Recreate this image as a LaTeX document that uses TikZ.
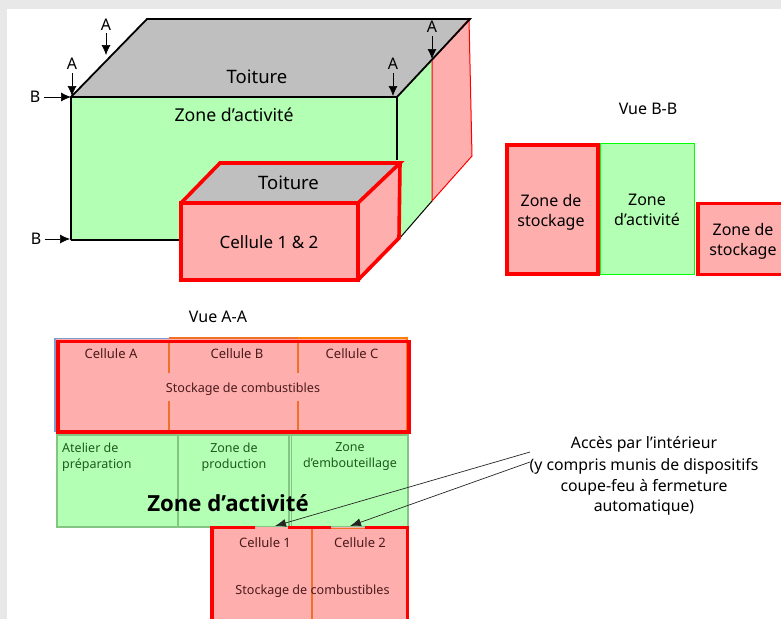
\documentclass[tikz,border=0pt]{standalone}
\usepackage{fontspec}
\setmainfont{Noto Sans}
\newfontfamily\zboldfont{Open Sans}[BoldFont={* Bold}]
\usetikzlibrary{arrows.meta}
\definecolor{zgreen}{HTML}{B3FFB3}
\definecolor{zred}{HTML}{FFAEAE}
\definecolor{zgrey}{HTML}{BFBFBF}
\definecolor{zbg}{HTML}{E8E8E8}
\definecolor{zdiv}{HTML}{83C583}
\definecolor{zorange}{HTML}{F0702A}
\definecolor{zblue}{HTML}{7A9FD0}
\definecolor{ztext}{HTML}{4A1A1A}
\definecolor{zgtext}{HTML}{1F5A1F}
\tikzset{
 lbl/.style={inner sep=0pt,align=center,font=\fontsize{#1}{#1}\selectfont},
 lbl/.default=16,
 mark arrow/.style={-{Latex[length=10pt,width=9pt]},line width=.7pt},
 black edge/.style={black,line width=1.8pt},
 red edge/.style={red,line width=3.6pt,line join=miter},
 acces/.style={-{Latex[length=11pt,width=8pt]},line width=.7pt,black!85}
}
\begin{document}
\begin{tikzpicture}[x=1pt,y=-1pt]
\useasboundingbox (0,0) rectangle (781,619);
\fill[zbg] (0,0) rectangle (781,619);
\fill[white] (7,9) rectangle (781,619);
% ---- perspective building
\fill[zgrey] (71,97) -- (147,19) -- (470,19) -- (397,97) -- cycle;
\fill[zgreen] (71,97) rectangle (397,240);
\fill[zgreen] (397,97) -- (432,60) -- (432,201) -- (399,239) -- cycle;
\filldraw[fill=zred,draw=red,line width=1pt] (432,60) -- (469,19) -- (472,156) -- (432,201) -- cycle;
\draw[black,line width=1pt] (399,239) -- (432,201);
\draw[black edge] (71,240) -- (71,97) -- (147,19) -- (470,19) -- (397,97) -- (71,97);
\draw[black edge] (397,97) -- (397,160);
\draw[black edge] (71,240) -- (181,240);
% small box
\fill[zgrey] (181,203) -- (220,163) -- (400,163) -- (358,203) -- cycle;
\fill[zred] (181,203) rectangle (358,280);
\fill[zred] (358,203) -- (400,163) -- (399,238) -- (358,280) -- cycle;
\draw[red edge] (181,203) rectangle (358,280);
\draw[red edge] (181,203) -- (220,163) -- (400,163) -- (358,203);
\draw[red edge] (400,163) -- (399,238) -- (358,280);
% labels building
\node[lbl=18.5] (toit1) at (257,77) {Toiture};
\node[lbl=17.7] (act1) at (234,115) {Zone d’activité};
\node[lbl=18.5] (toit2) at (288.5,183) {Toiture};
\node[lbl=17] (cell12) at (269,242) {Cellule 1 \& 2};
% A/B markers
\node[lbl=16] (a1) at (106,25) {A};
\coordinate (a1e) at (106,55);
\draw[mark arrow] (106,33) -- (a1e);
\node[lbl=16] (a2) at (72,64) {A};
\coordinate (a2e) at (72,96);
\draw[mark arrow] (72,73) -- (a2e);
\node[lbl=16] (a3) at (393,64) {A};
\coordinate (a3e) at (393,96);
\draw[mark arrow] (393,73) -- (a3e);
\node[lbl=16] (a4) at (432,27) {A};
\coordinate (a4e) at (432,59);
\draw[mark arrow] (432,36) -- (a4e);
\node[lbl=16] (b1) at (35,97) {B};
\coordinate (b1e) at (71,97);
\draw[mark arrow] (44,97) -- (b1e);
\node[lbl=16] (b2) at (36,239) {B};
\coordinate (b2e) at (70,239);
\draw[mark arrow] (45,239) -- (b2e);
% ---- Vue B-B
\node[lbl=16] (vbb) at (648,109) {Vue B-B};
\node[draw=green,line width=1pt,fill=zgreen,minimum width=94pt,minimum height=131pt] (bbg) at (647,208.5) {};
\node[lbl=16] (bbgt) at (647,209.5) {Zone\\[4pt]d’activité};
\node[draw=red,line width=3.6pt,fill=zred,minimum width=91pt,minimum height=129pt] (bbr) at (552.5,209.5) {};
\node[lbl=16] (bbrt) at (551,212.5) {Zone de\\[4pt]stockage};
\fill[zred] (696,202) rectangle (781,276);
\draw[red,line width=3.6pt] (790,203.5) -- (698,203.5) -- (698,274.5) -- (790,274.5);
\node[lbl=16] (bbr2) at (743,241) {Zone de\\[4pt]stockage};
% ---- Vue A-A
\node[lbl=16] (vaa) at (218,317) {Vue A-A};
\fill[zred] (56,339) rectangle (408,433);
\draw[zblue,line width=1.2pt] (55,432) -- (55,338.5) -- (169,338.5);
\draw[zorange,line width=1.5pt] (169,338) -- (298,338);
\draw[orange,line width=1.5pt] (298,338) -- (407,338) -- (407,433);
\draw[zorange,line width=1.2pt] (169,341) -- (169,373) (169,401) -- (169,433);
\draw[zorange,line width=1.2pt] (298,341) -- (298,373) (298,401) -- (298,433);
\draw[red,line width=3.6pt] (58,341.5) rectangle (409,432);
\node[lbl=13,text=ztext] (ca) at (111,354) {Cellule A};
\node[lbl=13,text=ztext] (cb) at (237,354) {Cellule B};
\node[lbl=13,text=ztext] (cc) at (352,354) {Cellule C};
\node[lbl=12.6,text=ztext] (sc1) at (243,389) {Stockage de combustibles};
% green row
\filldraw[fill=zgreen,draw=zdiv,line width=1.2pt] (57,435) rectangle (408,527);
\draw[zdiv,line width=1.2pt] (178,435) -- (178,527) (289,435) -- (289,527) (291.5,435) -- (291.5,527);
\node[lbl=12.5,text=zgtext,align=left,anchor=north west] (at) at (62,443) {Atelier de\\[3.5pt]préparation};
\node[lbl=12.5,text=zgtext] (zp) at (234,457) {Zone de\\[3.5pt]production};
\node[lbl=12.5,text=zgtext] (ze) at (350,457) {Zone\\[3.5pt]d’embouteillage};
\node[inner sep=0pt,font=\zboldfont\bfseries\fontsize{22.2}{22.2}\selectfont] (za) at (228,503) {Zone d’activité};
% bottom cells
\fill[zred] (212,527) rectangle (408,619);
\draw[zorange,line width=1.2pt] (312,527) -- (312,619);
\draw[zorange,line width=1pt] (331,528) -- (365,528);
\draw[red,line width=3.6pt] (212,619) -- (212,527.5) -- (255,527.5);
\draw[red,line width=3.6pt] (288,527.5) -- (331,527.5);
\draw[red,line width=3.6pt] (365,527.5) -- (407.5,527.5) -- (407.5,619);
\node[lbl=13,text=ztext] (c1) at (265,543) {Cellule 1};
\node[lbl=13,text=ztext] (c2) at (360,543) {Cellule 2};
\node[lbl=12.6,text=ztext] (sc2) at (312.5,591) {Stockage de combustibles};
% access
\node[lbl=15.8] (acc) at (644,476) {Accès par l’intérieur\\[4.5pt](y compris munis de dispositifs\\[4.5pt]coupe-feu à fermeture\\[4.5pt]automatique)};
\coordinate (t1) at (275,526);
\coordinate (t2) at (350,526);
\coordinate (s1) at (530,452);
\coordinate (s2) at (530,462);
\draw[acces] (s1) -- (t1);
\draw[acces] (s2) -- (t2);
\end{tikzpicture}
\end{document}
